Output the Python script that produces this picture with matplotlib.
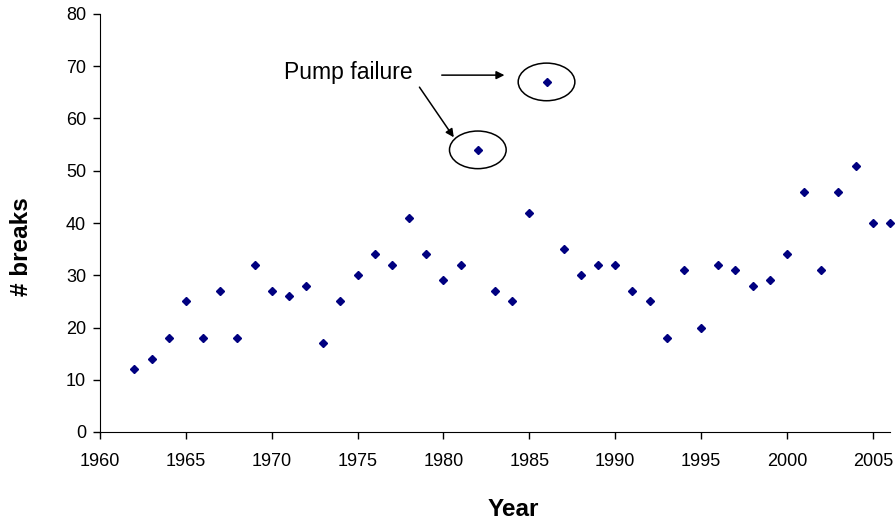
import matplotlib
matplotlib.use("Agg")
import matplotlib.pyplot as plt
from matplotlib.patches import Ellipse

plt.rcParams["font.family"] = ["Liberation Sans", "DejaVu Sans"]

# Data
years = list(range(1962, 2007))
breaks = [12, 14, 18, 25, 18, 27, 18, 32, 27, 26,
          28, 17, 25, 30, 34, 32, 41, 34, 29, 32,
          54, 27, 25, 42, 67, 35, 30, 32, 32, 27,
          25, 18, 31, 20, 32, 31, 28, 29, 34, 46,
          31, 46, 51, 40, 40]
failure_years = [1982, 1986]
x_ticks = list(range(1960, 2006, 5))
y_ticks = list(range(0, 81, 10))

fig = plt.figure(figsize=(8.96, 5.24), dpi=100)
ax = fig.add_axes([100 / 896, 1 - 432 / 524, 790 / 896, 418 / 524])

ax.plot(years, breaks, linestyle="none", marker="D", markersize=3.8,
        color="#000080", clip_on=False)

ax.set_xlim(1960, 2006)
ax.set_ylim(0, 80)
ax.set_xticks(x_ticks)
ax.set_yticks(y_ticks)
ax.tick_params(direction="out", length=5, width=1, labelsize=13)
ax.tick_params(axis="x", pad=10)
ax.tick_params(axis="y", pad=5)
for side in ["top", "right"]:
    ax.spines[side].set_visible(False)

# axis titles placed as figure text so they sit where the reference has them
fig.text(513 / 896, 1 - 510 / 524, "Year", fontsize=17.5, fontweight="bold",
         ha="center", va="center")
fig.text(22 / 896, 1 - 247 / 524, "# breaks", fontsize=17.5, fontweight="bold",
         ha="center", va="center", rotation=90)

# Circles around the pump failure points
for yr in failure_years:
    val = breaks[years.index(yr)]
    ax.add_patch(Ellipse((yr, val), width=3.3, height=7.2, fill=False,
                         edgecolor="black", linewidth=1.1))

ax.text(1970.7, 68.8, "Pump failure", fontsize=16.5, va="center", ha="left")
arrow = dict(arrowstyle="-|>", color="black", lw=1.1,
             mutation_scale=12, shrinkA=0, shrinkB=0)
ax.annotate("", xy=(1983.55, 68.3), xytext=(1979.9, 68.3), arrowprops=arrow)
ax.annotate("", xy=(1980.6, 56.4), xytext=(1978.6, 66.0), arrowprops=arrow)

fig.savefig("out.png", dpi=100)
